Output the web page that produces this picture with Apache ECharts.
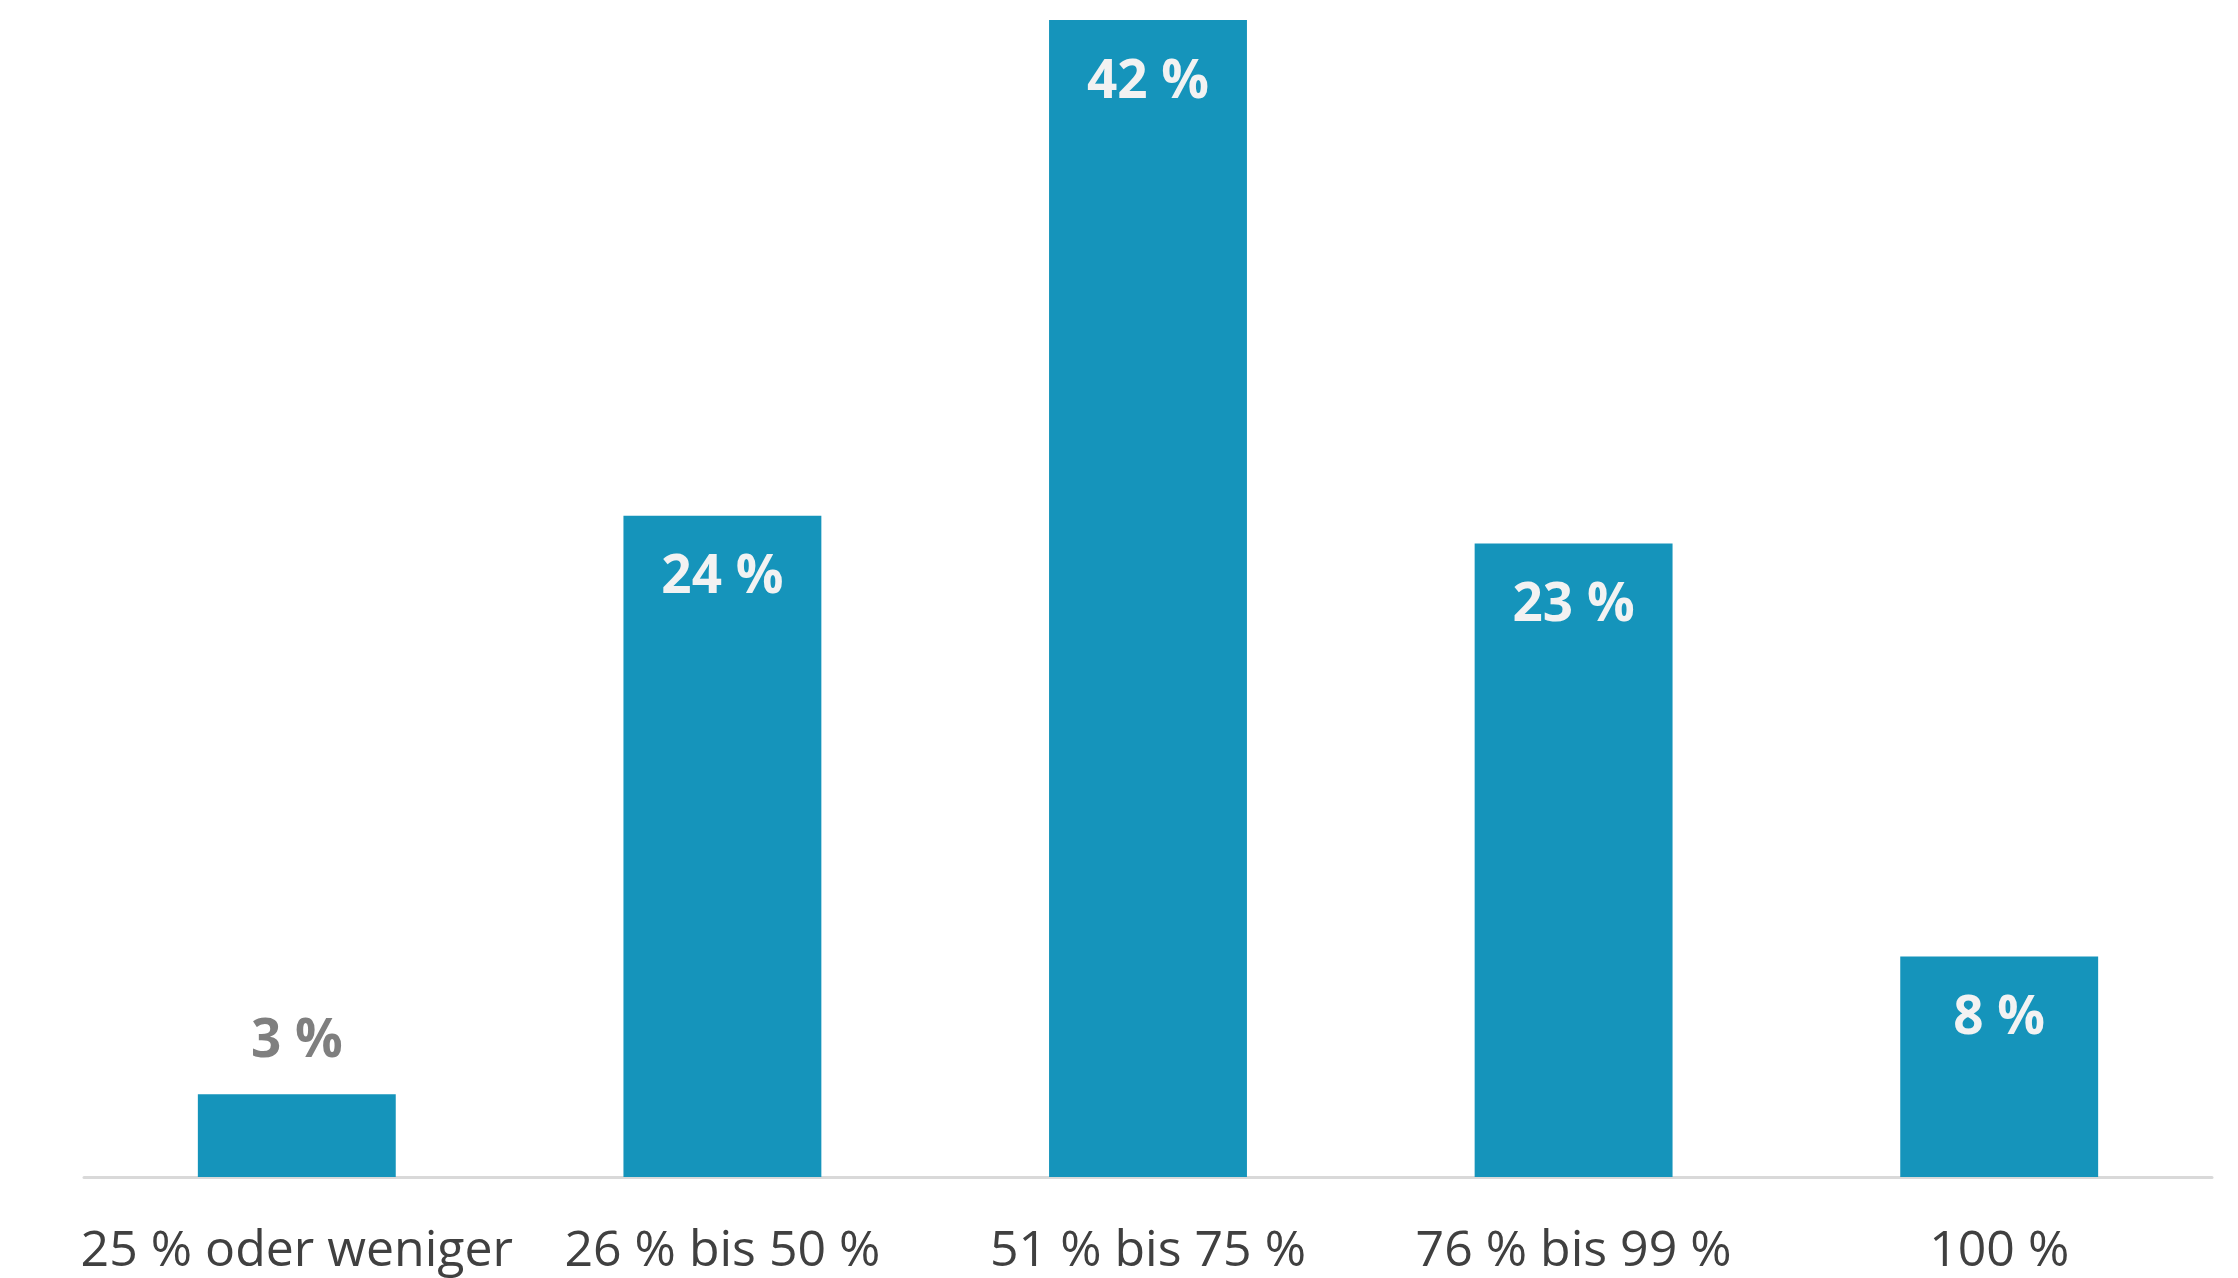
<!DOCTYPE html>
<html>
<head>
<meta charset="utf-8">
<script src="https://cdn.jsdelivr.net/npm/echarts@6/dist/echarts.min.js"></script>
<style>
    html, body { margin: 0; padding: 0; background: #fff; }
    #chart { width: 2238px; height: 1278px; }
</style>
</head>
<body>
<div id="chart"></div>
<script>
const categories = ['25 % oder weniger', '26 % bis 50 %', '51 % bis 75 %', '76 % bis 99 %', '100 %'];
const values = [3, 24, 42, 23, 8];

// bars too short to hold their label get it on top, in grey
const outsideBelow = 5;

const barColor = '#1594bb';

let chartDom = document.getElementById('chart');
let myChart = echarts.init(chartDom);

let data = values.map(function (v) {
    if (v < outsideBelow) {
        return {
            value: v,
            label: {
                position: 'top',
                distance: 26,
                color: '#7f7f7f'
            }
        };
    }
    return v;
});

let option = {
    animation: false,
    grid: {
        left: 84,
        right: 26,
        top: 20,
        bottom: 101
    },
    xAxis: {
        type: 'category',
        data: categories,
        axisLine: { lineStyle: { color: '#d9d9d9', width: 3 } },
        axisTick: { show: false },
        axisLabel: {
            interval: 0,
            color: '#404040',
            fontFamily: 'Open Sans',
            fontSize: 50,
            margin: 50
        }
    },
    yAxis: {
        type: 'value',
        min: 0,
        max: 42,
        show: false,
        splitLine: { show: false }
    },
    series: [{
        type: 'bar',
        data: data,
        barWidth: '46.5%',
        itemStyle: { color: barColor },
        label: {
            show: true,
            position: 'insideTop',
            distance: 36,
            formatter: '{c} %',
            color: '#f2f2f2',
            fontFamily: 'Open Sans',
            fontWeight: 'bold',
            fontSize: 53
        }
    }]
};

option && myChart.setOption(option);
</script>
</body>
</html>
